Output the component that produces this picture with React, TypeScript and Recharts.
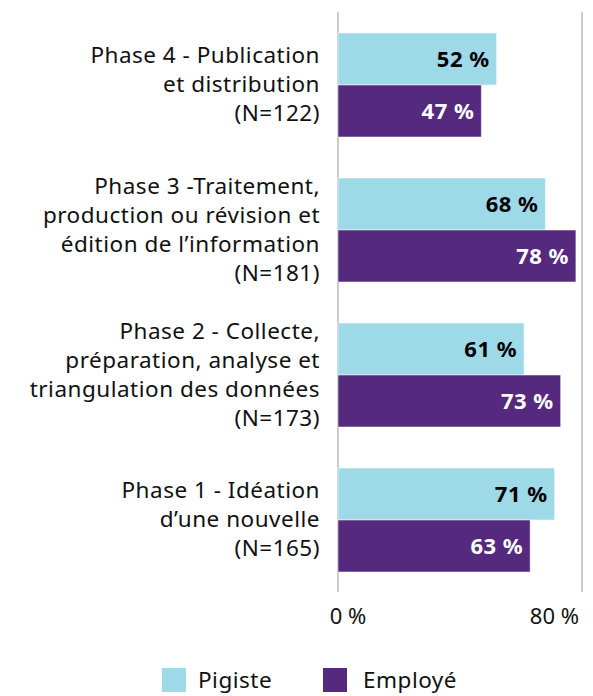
import React from "react";
import { BarChart, Bar, XAxis, YAxis, CartesianGrid, LabelList, Legend } from "recharts";

const categories = ["Phase 4", "Phase 3", "Phase 2", "Phase 1"];
const categoryLines: string[][] = [
  ["Phase 4 - Publication", "et distribution", "(N=122)"],
  ["Phase 3 -Traitement,", "production ou révision et", "édition de l’information", "(N=181)"],
  ["Phase 2 -  Collecte,", "préparation, analyse et", "triangulation des données", "(N=173)"],
  ["Phase 1 - Idéation", "d’une nouvelle", "(N=165)"],
];
const pigiste = [52, 68, 61, 71];
const employe = [47, 78, 73, 63];
const xTicks = [0, 80];
const seriesNames = ["Pigiste", "Employé"];
const colors = ["#9ED9E8", "#552A7E"];

const data = categories.map((c, i) => ({ name: c, idx: i, pigiste: pigiste[i], employe: employe[i] }));

const FONT = "'Noto Sans', 'Open Sans', sans-serif";

const CatTick = (props: any) => {
  const { x, y, payload } = props;
  const lines = categoryLines[payload.index] || [String(payload.value)];
  const lh = 29;
  const start = -((lines.length - 1) * lh) / 2;
  return (
    <text x={x - 10} y={y} textAnchor="end" fontFamily={FONT} fontSize={22.5} letterSpacing={0.5} fill="#111">
      {lines.map((l, i) => (
        <tspan key={i} x={x - 10} y={y + start + i * lh} dy="0.35em">
          {l}
        </tspan>
      ))}
    </text>
  );
};

const XTick = (props: any) => {
  const { x, y, payload } = props;
  const isLast = payload.value === xTicks[xTicks.length - 1];
  return (
    <text
      x={isLast ? x + 2 : x + 10}
      y={y}
      dy="0.71em"
      textAnchor={isLast ? "end" : "middle"}
      fontFamily={FONT}
      fontSize={22}
      fill="#111"
    >
      {`${payload.value} %`}
    </text>
  );
};

const LegendContent = () => (
  <div style={{ position: "relative", width: 577, height: 26, fontFamily: FONT, fontSize: 22.5, letterSpacing: 0.5 }}>
    {seriesNames.map((n, i) => (
      <div key={n} style={{ position: "absolute", left: i === 0 ? 154 : 315, top: 0, height: 26, display: "flex", alignItems: "center" }}>
        <div style={{ width: 24, height: 24, background: colors[i], marginRight: i === 0 ? 12 : 16 }} />
        <span style={{ color: "#111", lineHeight: "26px" }}>{n}</span>
      </div>
    ))}
  </div>
);

export default function App() {
  return (
    <BarChart
      width={577}
      height={688}
      data={data}
      layout="vertical"
      margin={{ top: 4, right: 3, left: 0, bottom: 48 }}
      barCategoryGap={21}
      barGap={0}
    >
      <CartesianGrid horizontal={false} vertical={true} stroke="#cccccc" strokeWidth={2} />
      <XAxis
        type="number"
        domain={[0, 80]}
        ticks={xTicks}
        axisLine={false}
        tickLine={false}
        tickMargin={10}
        tick={<XTick />}
        height={30}
      />
      <YAxis
        type="category"
        dataKey="name"
        width={330}
        axisLine={false}
        tickLine={false}
        tick={<CatTick />}
        interval={0}
      />
      <Legend verticalAlign="bottom" content={<LegendContent />} wrapperStyle={{ top: 659, left: 0, bottom: "auto" }} />
      <Bar dataKey="pigiste" name="Pigiste" fill={colors[0]} stroke="#ffffff" strokeOpacity={0.5} isAnimationActive={false}>
        <LabelList
          dataKey="pigiste"
          position="insideRight"
          offset={7}
          formatter={(v: any) => `${v} %`}
          style={{ fontFamily: FONT, fontSize: 22, fontWeight: 700, letterSpacing: 0.5, fill: "#000" }}
        />
      </Bar>
      <Bar dataKey="employe" name="Employé" fill={colors[1]} stroke="#ffffff" strokeOpacity={0.5} isAnimationActive={false}>
        <LabelList
          dataKey="employe"
          position="insideRight"
          offset={7}
          formatter={(v: any) => `${v} %`}
          style={{ fontFamily: FONT, fontSize: 22, fontWeight: 700, letterSpacing: 0.5, fill: "#fff" }}
        />
      </Bar>
    </BarChart>
  );
}
